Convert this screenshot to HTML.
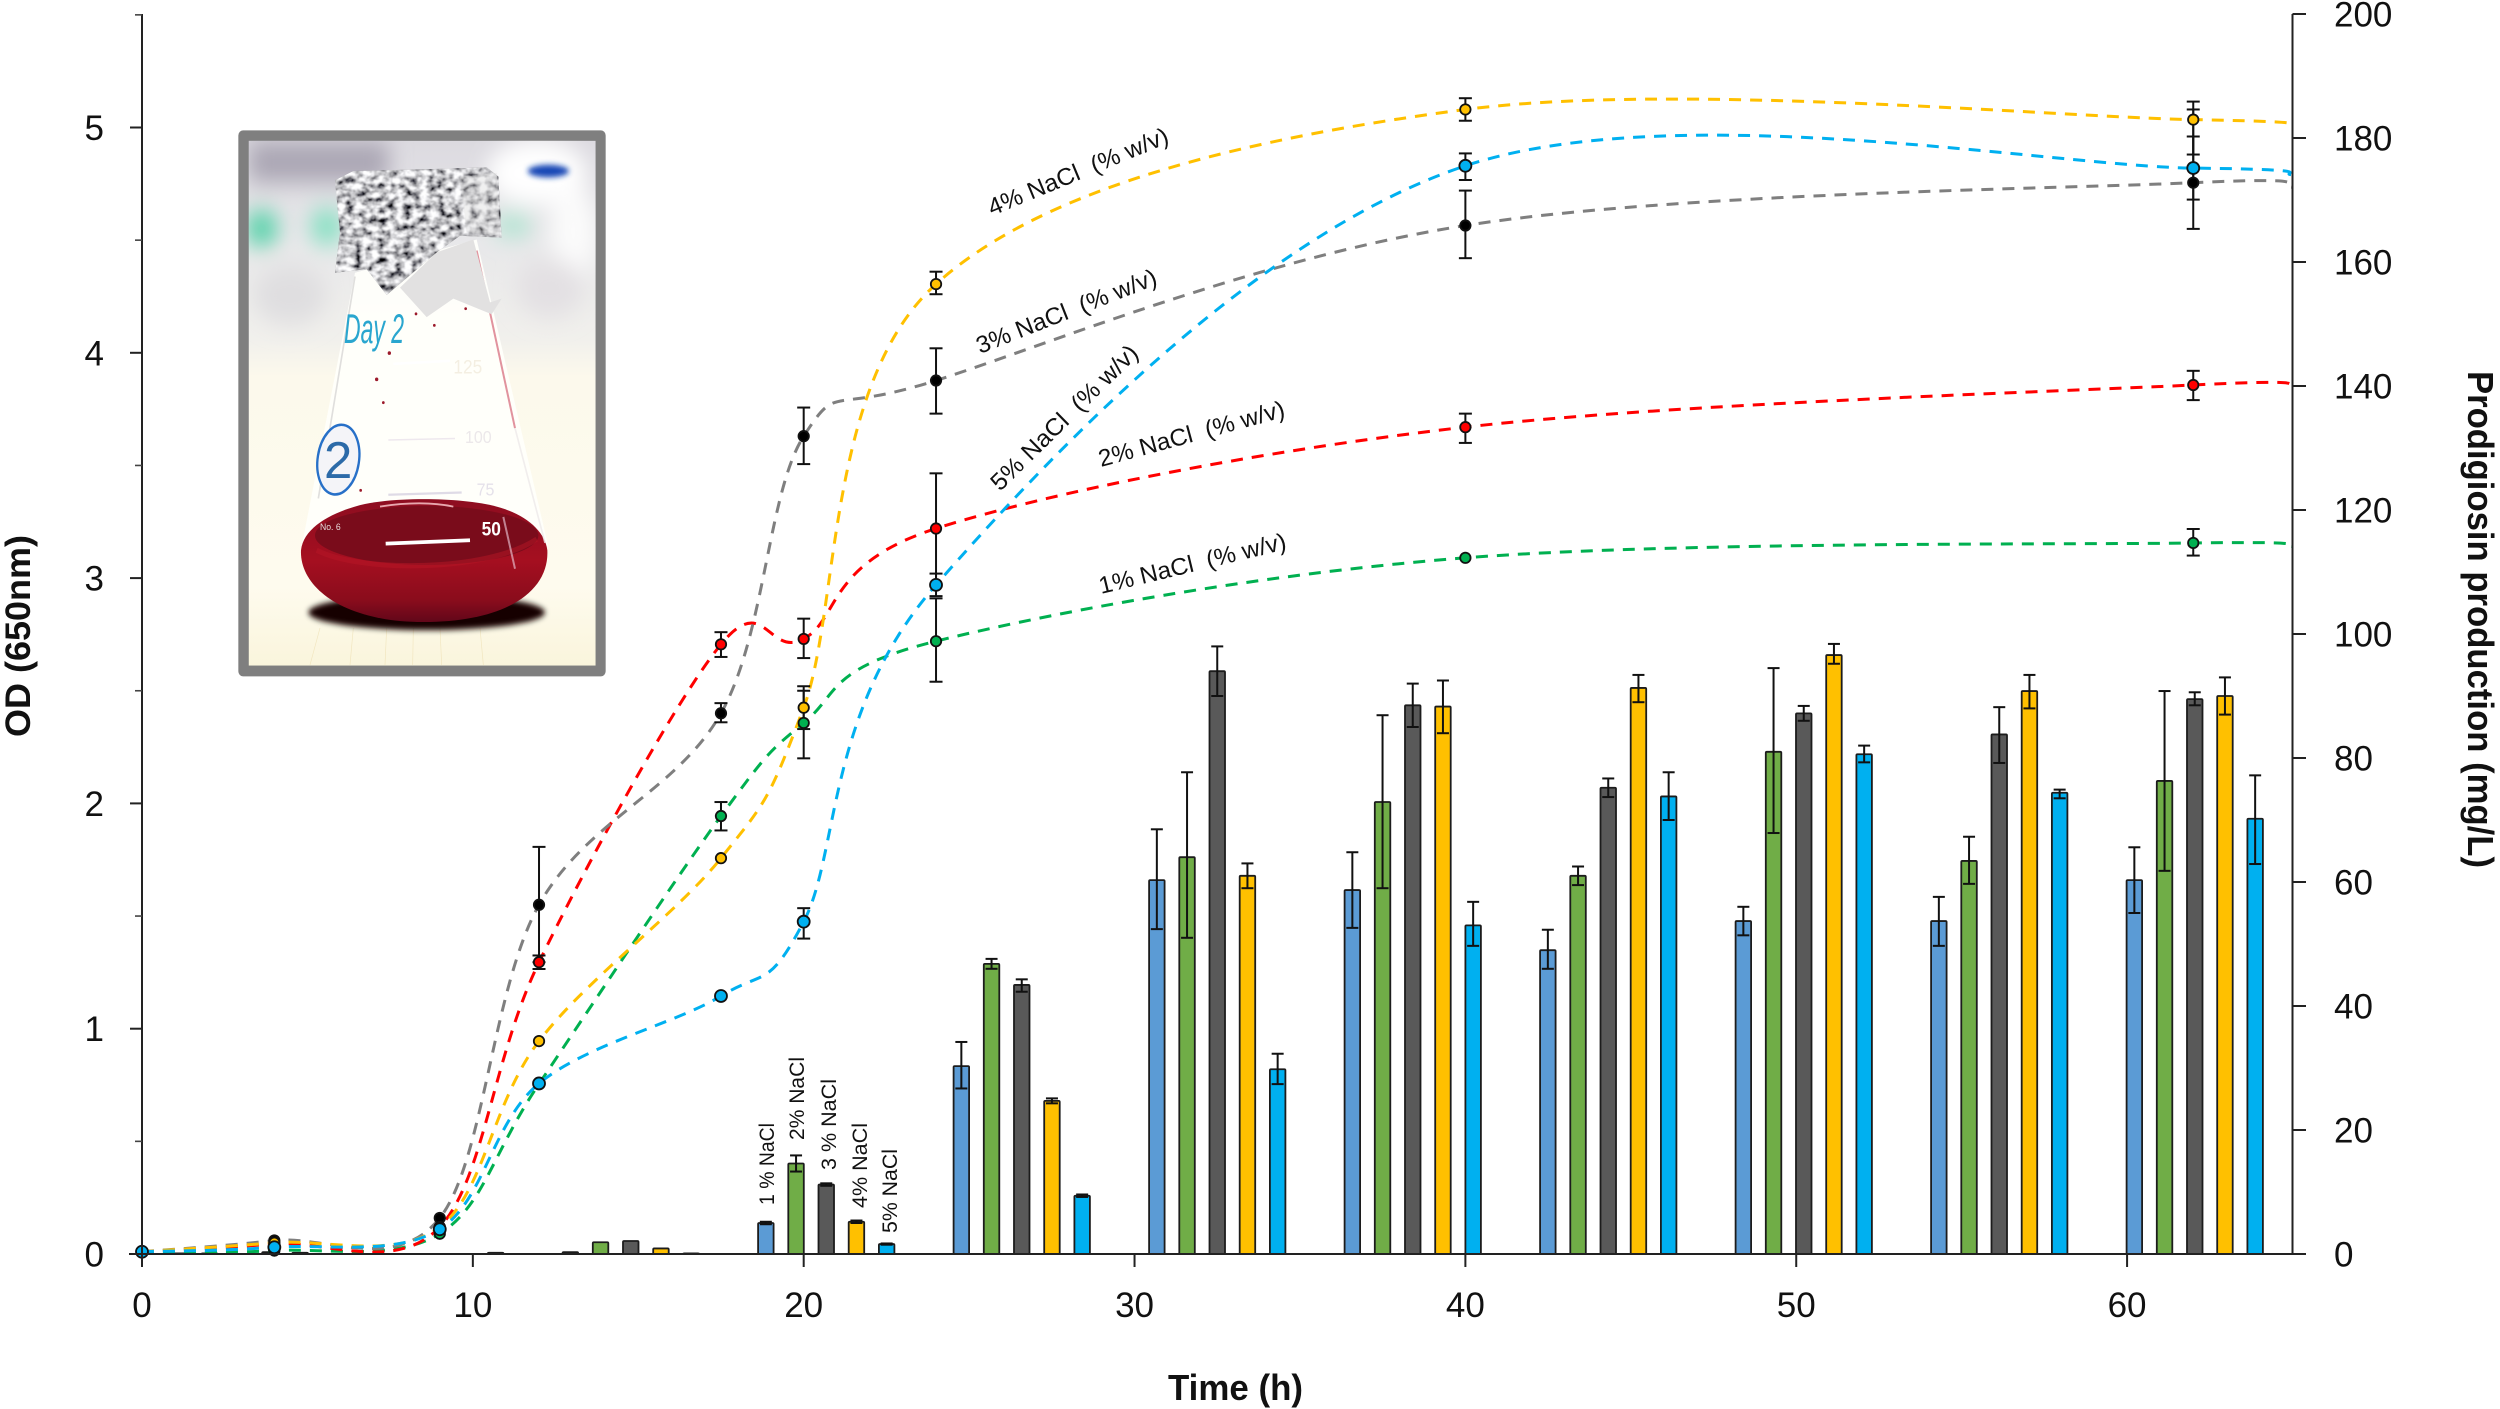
<!DOCTYPE html>
<html lang="en">
<head>
<meta charset="utf-8">
<title>OD and prodigiosin production over time</title>
<style>
html,body{margin:0;padding:0;background:#fff;}
svg{display:block;}
text{font-family:"Liberation Sans",sans-serif;fill:#111;}
</style>
</head>
<body>
<svg id="chart" xmlns="http://www.w3.org/2000/svg" width="2500" height="1409" viewBox="0 0 2500 1409">
  <defs>
    <filter id="blur30" x="-50%" y="-50%" width="200%" height="200%"><feGaussianBlur stdDeviation="32"/></filter>
    <filter id="blur8" x="-20%" y="-80%" width="140%" height="260%"><feGaussianBlur stdDeviation="8"/></filter>
    <filter id="foilTex" x="0" y="0" width="100%" height="100%">
      <feTurbulence type="fractalNoise" baseFrequency="0.04 0.055" numOctaves="3" seed="11" result="n"/>
      <feColorMatrix in="n" type="matrix" values="2.3 0 0 0 -0.58  2.3 0 0 0 -0.58  2.3 0 0 0 -0.56  0 0 0 0 1" result="g"/>
      <feGaussianBlur in="g" stdDeviation="1.5" result="s"/>
      <feComposite in="s" in2="SourceAlpha" operator="in"/>
    </filter>
    <clipPath id="photoClip"><rect x="86" y="83" width="1041" height="1419"/></clipPath>
    <linearGradient id="bgGrad" x1="0" y1="0" x2="0" y2="1">
      <stop offset="0" stop-color="#dcdae0"/><stop offset="0.2" stop-color="#e8e8ea"/>
      <stop offset="0.38" stop-color="#f1f0ec"/><stop offset="0.45" stop-color="#fcf9ec"/>
      <stop offset="0.85" stop-color="#fefbee"/><stop offset="1" stop-color="#faf5dc"/>
    </linearGradient>
    <linearGradient id="liquidGrad" x1="0" y1="0" x2="0" y2="1">
      <stop offset="0" stop-color="#8d0d20"/><stop offset="0.5" stop-color="#a50f20"/>
      <stop offset="0.82" stop-color="#8a0c1c"/><stop offset="1" stop-color="#62071a"/>
    </linearGradient>
  </defs>

  <g id="flask-photo" transform="translate(220,110) scale(0.33333,0.36996)">
    <rect x="55" y="55" width="1102" height="1476" rx="14" fill="#7f7f7f"/>
    <g clip-path="url(#photoClip)">
      <rect x="86" y="83" width="1041" height="1419" fill="url(#bgGrad)"/>
      <g filter="url(#blur30)">
        <rect x="86" y="85" width="420" height="110" fill="#aaa6b4"/>
        <circle cx="125" cy="320" r="48" fill="#4cd0a4"/>
        <circle cx="320" cy="315" r="48" fill="#7fe0c0"/>
        <ellipse cx="950" cy="170" rx="150" ry="90" fill="#ffffff"/>
        <ellipse cx="880" cy="310" rx="55" ry="28" fill="#a4e4cc"/>
        <ellipse cx="1060" cy="330" rx="70" ry="130" fill="#fbfbfb"/>
        <ellipse cx="210" cy="500" rx="110" ry="80" fill="#dfdee0"/>
        <ellipse cx="990" cy="480" rx="100" ry="80" fill="#e3e0e3"/>
      </g>
      <ellipse cx="985" cy="165" rx="62" ry="17" fill="#1747b5" filter="url(#blur8)"/>
      <polygon points="405,440 770,350 985,1180 245,1180" fill="#fffffb" opacity="0.95"/>
      <g stroke="#e8d6a0" stroke-width="2" opacity="0.5">
        <line x1="300" y1="1400" x2="270" y2="1500"/><line x1="400" y1="1400" x2="390" y2="1500"/>
        <line x1="500" y1="1400" x2="495" y2="1500"/><line x1="580" y1="1400" x2="578" y2="1500"/>
        <line x1="660" y1="1400" x2="665" y2="1500"/><line x1="780" y1="1400" x2="790" y2="1500"/>
      </g>
      <ellipse cx="620" cy="1358" rx="355" ry="48" fill="#140505" filter="url(#blur8)"/>
      <path d="M243,1190 C250,1130 330,1090 420,1068 C520,1046 720,1046 830,1072 C920,1094 975,1140 982,1190 C988,1300 860,1384 610,1384 C370,1384 238,1290 243,1190Z" fill="url(#liquidGrad)"/>
      <ellipse cx="620" cy="1150" rx="335" ry="80" fill="#7a0c1b"/>
      <path d="M290,1190 C420,1250 800,1250 950,1160" fill="none" stroke="#b81526" stroke-width="14" opacity="0.5"/>
      <path d="M480,1072 C560,1060 640,1060 700,1072" stroke="#e7a7ae" stroke-width="5" fill="none"/>
      <line x1="497" y1="1172" x2="750" y2="1163" stroke="#ffffff" stroke-width="10"/>
      <text x="785" y="1150" font-size="52" font-weight="bold" style="fill:#ffffff">50</text>
      <text x="700" y="712" font-size="52" style="fill:#f4efe2">125</text>
      <line x1="520" y1="686" x2="690" y2="678" stroke="#ffffff" stroke-width="7"/>
      <line x1="505" y1="892" x2="705" y2="888" stroke="#eee8ee" stroke-width="4"/>
      <line x1="505" y1="1040" x2="725" y2="1034" stroke="#dfdbe6" stroke-width="6"/>
      <text x="770" y="1042" font-size="48" style="fill:#e5e1ea">75</text>
      <text x="735" y="900" font-size="48" style="fill:#ece8ea">100</text>
      <text x="300" y="1135" font-size="26" style="fill:#e8dcdc">No. 6</text>
      <line x1="770" y1="380" x2="885" y2="860" stroke="#d87080" stroke-width="6" opacity="0.75"/>
      <line x1="405" y1="450" x2="295" y2="1050" stroke="#d4d2d2" stroke-width="5" opacity="0.7"/>
      <line x1="885" y1="860" x2="975" y2="1170" stroke="#eeeaea" stroke-width="5" opacity="0.8"/>
      <line x1="850" y1="1100" x2="885" y2="1240" stroke="#f0d0e0" stroke-width="6" opacity="0.6"/>
      <polygon points="540,480 650,385 760,350 810,520 845,510 815,552 700,510 620,560" fill="#e2e1e1"/>
      <polygon points="345,190 400,165 620,160 800,155 835,180 845,345 720,340 650,385 500,500 440,430 345,440 360,330" fill="#8b8b8b"/>
      <polygon points="345,190 400,165 620,160 800,155 835,180 845,345 720,340 650,385 500,500 440,430 345,440 360,330" fill="#fff" filter="url(#foilTex)"/>
      <polygon points="720,180 830,170 840,340 740,330" fill="#d9d9d9" opacity="0.4"/>
      <text x="372" y="630" font-size="112" font-style="italic" textLength="180" lengthAdjust="spacingAndGlyphs" style="fill:#2aa6cf">Day 2</text>
      <ellipse cx="355" cy="945" rx="62" ry="95" fill="#f4f4f8" stroke="#2770c8" stroke-width="7" transform="rotate(10 355 945)"/>
      <text x="312" y="995" font-size="140" textLength="85" lengthAdjust="spacingAndGlyphs" style="fill:#2c6aa8">2</text>
      <g fill="#9c1a2b">
        <circle cx="508" cy="657" r="5"/><circle cx="470" cy="728" r="5"/><circle cx="490" cy="791" r="4"/>
        <circle cx="588" cy="551" r="4"/><circle cx="643" cy="582" r="4"/><circle cx="737" cy="537" r="4"/><circle cx="422" cy="1028" r="4"/>
      </g>
    </g>
  </g>

  <g id="bars"></g>
  <g id="lines"></g>
  <g id="axes"></g>

  <text transform="translate(30,737) rotate(-90)" font-size="35" font-weight="bold" textLength="202" lengthAdjust="spacingAndGlyphs">OD (650nm)</text>
  <text transform="translate(2468,371) rotate(90)" font-size="36" font-weight="bold" textLength="497" lengthAdjust="spacingAndGlyphs">Prodigiosin production (mg/L)</text>
  <text x="1168" y="1400" font-size="36" font-weight="bold" textLength="135" lengthAdjust="spacingAndGlyphs">Time (h)</text>

  <text transform="translate(992,216) rotate(-22.5)" font-size="24" textLength="193" lengthAdjust="spacingAndGlyphs">4% NaCl&#160; (% w/v)</text>
  <text transform="translate(980,354) rotate(-21.5)" font-size="24" textLength="192" lengthAdjust="spacingAndGlyphs">3% NaCl&#160; (% w/v)</text>
  <text transform="translate(1000,492) rotate(-44.5)" font-size="24" textLength="196" lengthAdjust="spacingAndGlyphs">5% NaCl&#160; (% w/v)</text>
  <text transform="translate(1101,467) rotate(-15.3)" font-size="24" textLength="192" lengthAdjust="spacingAndGlyphs">2% NaCl&#160; (% w/v)</text>
  <text transform="translate(1101,594) rotate(-13.6)" font-size="24" textLength="192" lengthAdjust="spacingAndGlyphs">1% NaCl&#160; (% w/v)</text>

  <text transform="translate(774,1205) rotate(-90)" font-size="21" textLength="82" lengthAdjust="spacingAndGlyphs">1 % NaCl</text>
  <text transform="translate(804,1140) rotate(-90)" font-size="21" textLength="83" lengthAdjust="spacingAndGlyphs">2% NaCl</text>
  <text transform="translate(836,1170) rotate(-90)" font-size="21" textLength="91" lengthAdjust="spacingAndGlyphs">3 % NaCl</text>
  <text transform="translate(867,1208) rotate(-90)" font-size="21" textLength="85" lengthAdjust="spacingAndGlyphs">4% NaCl</text>
  <text transform="translate(897,1233) rotate(-90)" font-size="21" textLength="84" lengthAdjust="spacingAndGlyphs">5% NaCl</text>

<script>
// ---- Axis tick labels ----
const timeTicks = [0, 10, 20, 30, 40, 50, 60];
const odTicks = [0, 1, 2, 3, 4, 5];
const odMinorTicks = [0.5, 1.5, 2.5, 3.5, 4.5, 5.5];
const prodTicks = [0, 20, 40, 60, 80, 100, 120, 140, 160, 180, 200];

// ---- OD line series (hours; last hour is where the curve meets the axis) ----
const lineHours = [0, 4, 9, 12, 17.5, 20, 24, 40, 62, 65];
const od1 = [0.01, 0.015, 0.09, 0.755, 1.944, 2.357, 2.72, 3.09, 3.156, 3.14];
const od2 = [0.01, 0.045, 0.12, 1.295, 2.706, 2.73, 3.22, 3.67, 3.857, 3.85];
const od3 = [0.01, 0.06, 0.16, 1.55, 2.40, 3.63, 3.877, 4.565, 4.755, 4.735];
const od4 = [0.01, 0.05, 0.12, 0.945, 1.757, 2.425, 4.305, 5.08, 5.035, 5.01];
const od5 = [0.01, 0.03, 0.11, 0.757, 1.145, 1.475, 2.97, 4.83, 4.82, 4.79];

// Error bar half-lengths (up / down) at each marker
const od1Up = [0, 0, 0, 0, 0.062, 0.143, 0.19, 0, 0.062];
const od1Down = [0, 0, 0, 0, 0.064, 0.157, 0.18, 0, 0.056];
const od2Up = [0, 0, 0, 0.03, 0.054, 0.09, 0.245, 0.06, 0.063];
const od2Down = [0, 0, 0, 0.03, 0.056, 0.085, 0.25, 0.07, 0.067];
const od3Up = [0, 0, 0, 0.257, 0.045, 0.127, 0.143, 0.155, 0.205];
const od3Down = [0, 0, 0, 0.255, 0.04, 0.124, 0.147, 0.145, 0.205];
const od4Up = [0, 0, 0, 0, 0, 0.095, 0.055, 0.05, 0.08];
const od4Down = [0, 0, 0, 0, 0, 0.095, 0.045, 0.05, 0.155];
const od5Up = [0, 0, 0, 0, 0, 0.06, 0.05, 0.055, 0.26];
const od5Down = [0, 0, 0, 0, 0, 0.075, 0.05, 0.063, 0.14];

// ---- Prodigiosin bars (mg/L) ----
const barGroups = ['g1', 'g2', 'g3', 'g4', 'g5', 'g6', 'g7', 'g8', 'g9', 'g10', 'g11'];
const bar1 = [0.1, 0, 0.3, 5.0, 30.3, 60.3, 58.7, 49, 53.7, 53.7, 60.3];
const bar2 = [0.1, 0, 1.9, 14.6, 46.8, 64, 72.9, 61, 81, 63.4, 76.3];
const bar3 = [0, 0, 2.1, 11.2, 43.4, 94, 88.5, 75.2, 87.2, 83.8, 89.5];
const bar4 = [0.3, 0, 0.9, 5.2, 24.7, 61, 88.3, 91.3, 96.6, 90.8, 90];
const bar5 = [0.2, 0.2, 0.1, 1.6, 9.4, 29.8, 53, 73.8, 80.6, 74.4, 70.2];
const bar1Up = [0, 0, 0, 0.2, 3.9, 8.2, 6.1, 3.3, 2.3, 3.9, 5.3];
const bar1Down = [0, 0, 0, 0.2, 3.6, 7.9, 6.1, 3, 2.3, 4, 5.3];
const bar2Up = [0, 0, 0, 1.3, 0.8, 13.7, 14, 1.5, 13.5, 3.9, 14.5];
const bar2Down = [0, 0, 0, 1.3, 0.8, 13, 13.9, 1.5, 13.1, 3.7, 14.5];
const bar3Up = [0, 0, 0, 0.2, 0.9, 4, 3.5, 1.5, 1.2, 4.4, 1.1];
const bar3Down = [0, 0, 0, 0.2, 1.1, 4, 3.5, 1.5, 1.2, 4.6, 1];
const bar4Up = [0, 0, 0, 0.2, 0.4, 2, 4.2, 2.1, 1.8, 2.6, 3];
const bar4Down = [0, 0, 0, 0.2, 0.4, 2, 4.3, 2.3, 1.4, 2.8, 3];
const bar5Up = [0, 0, 0, 0.1, 0.2, 2.5, 3.8, 3.9, 1.4, 0.5, 7];
const bar5Down = [0, 0, 0, 0.1, 0.2, 2.4, 3.3, 3.8, 1.3, 0.9, 7.3];

const lineSeries = [
  {key: '1-percent', values: od1, up: od1Up, down: od1Down, color: '#00B050', marker: '#00B050'},
  {key: '2-percent', values: od2, up: od2Up, down: od2Down, color: '#FF0000', marker: '#FF0000'},
  {key: '3-percent', values: od3, up: od3Up, down: od3Down, color: '#7F7F7F', marker: '#000000'},
  {key: '4-percent', values: od4, up: od4Up, down: od4Down, color: '#FFC000', marker: '#FFC000'},
  {key: '5-percent', values: od5, up: od5Up, down: od5Down, color: '#00B0F0', marker: '#00B0F0'}
];
const barSeries = [
  {key: '1-percent', values: bar1, up: bar1Up, down: bar1Down, color: '#5B9BD5'},
  {key: '2-percent', values: bar2, up: bar2Up, down: bar2Down, color: '#70AD47'},
  {key: '3-percent', values: bar3, up: bar3Up, down: bar3Down, color: '#595959'},
  {key: '4-percent', values: bar4, up: bar4Up, down: bar4Down, color: '#FFC000'},
  {key: '5-percent', values: bar5, up: bar5Up, down: bar5Down, color: '#00B0F0'}
];

// ---- Axis functions ----
const PLOT_LEFT = 142, PLOT_RIGHT = 2292.5, PLOT_BOTTOM = 1254, PLOT_TOP = 14;
const xTime = t => PLOT_LEFT + t * (PLOT_RIGHT - PLOT_LEFT) / 65;
const yOd = v => PLOT_BOTTOM - v * 225.3;
const yProd = v => PLOT_BOTTOM - v * (PLOT_BOTTOM - PLOT_TOP) / 200;
const groupBand = (PLOT_RIGHT - PLOT_LEFT) / barGroups.length;
const xGroup = i => PLOT_LEFT + groupBand * (i + 0.5);
const BAR_STEP = 30.2, BAR_W = 15.5;

const NS = 'http://www.w3.org/2000/svg';
function make(parent, tag, attrs, text) {
  const el = document.createElementNS(NS, tag);
  for (const k in attrs) el.setAttribute(k, attrs[k]);
  if (text !== undefined) el.textContent = text;
  parent.appendChild(el);
  return el;
}

function errorBar(parent, x, yHi, yLo, capW, name) {
  const g = make(parent, 'g', {stroke: '#111', 'stroke-width': 2});
  
  
  make(g, 'line', {x1: x, x2: x, y1: yHi, y2: yLo});
  make(g, 'line', {x1: x - capW / 2, x2: x + capW / 2, y1: yHi, y2: yHi});
  make(g, 'line', {x1: x - capW / 2, x2: x + capW / 2, y1: yLo, y2: yLo});
}

// ---- Bars ----
const barsRoot = document.getElementById('bars');
barSeries.forEach((s, si) => {
  const g = make(barsRoot, 'g', {});
  
  
  s.values.forEach((v, i) => {
    const cx = xGroup(i) + (si - 2) * BAR_STEP;
    const top = yProd(v);
    const r = make(g, 'rect', {x: cx - BAR_W / 2, y: top, width: BAR_W, height: PLOT_BOTTOM - top, rx: 1, fill: s.color, stroke: '#1c1c1c', 'stroke-width': 1.8});
    
    
    if (s.up[i] > 0 || s.down[i] > 0) {
      errorBar(g, cx, yProd(v + s.up[i]), yProd(v - s.down[i]), 12, 'bar-error-' + s.key + '-' + barGroups[i]);
    }
  });
});

// ---- Lines: Catmull-Rom style smoothing like a spreadsheet "smoothed line" ----
function smoothPath(xs, ys) {
  const pts = xs.map((t, i) => [xTime(t), yOd(ys[i])]);
  let d = 'M' + pts[0][0].toFixed(1) + ',' + pts[0][1].toFixed(1);
  for (let i = 0; i < pts.length - 1; i++) {
    const p0 = pts[Math.max(0, i - 1)], p1 = pts[i], p2 = pts[i + 1], p3 = pts[Math.min(pts.length - 1, i + 2)];
    const c1x = p1[0] + (p2[0] - p0[0]) / 6, c1y = p1[1] + (p2[1] - p0[1]) / 6;
    const c2x = p2[0] - (p3[0] - p1[0]) / 6, c2y = p2[1] - (p3[1] - p1[1]) / 6;
    d += 'C' + c1x.toFixed(1) + ',' + c1y.toFixed(1) + ' ' + c2x.toFixed(1) + ',' + c2y.toFixed(1) + ' ' + p2[0].toFixed(1) + ',' + p2[1].toFixed(1);
  }
  return d;
}
const linesRoot = document.getElementById('lines');
lineSeries.forEach(s => {
  const p = make(linesRoot, 'path', {d: smoothPath(lineHours, s.values), fill: 'none', stroke: s.color, 'stroke-width': 3, 'stroke-dasharray': '12 9'});
  
  
});
lineSeries.forEach(s => {
  s.up.forEach((u, i) => {
    if (u > 0 || s.down[i] > 0) {
      const x = xTime(lineHours[i]);
      errorBar(linesRoot, x, yOd(s.values[i] + u), yOd(s.values[i] - s.down[i]), 13, 'od-error-' + s.key + '-' + lineHours[i] + 'h');
    }
  });
});
lineSeries.forEach(s => {
  s.up.forEach((u, i) => {
    const c = make(linesRoot, 'circle', {cx: xTime(lineHours[i]), cy: yOd(s.values[i]), r: s.key === '5-percent' ? 6 : 5.2, fill: s.marker, stroke: '#111', 'stroke-width': 1.8});
    
    
  });
});

// ---- Axes ----
const axesRoot = document.getElementById('axes');
const baseLine = make(axesRoot, 'line', {x1: 129, x2: 2306, y1: PLOT_BOTTOM, y2: PLOT_BOTTOM, stroke: '#222', 'stroke-width': 2});


const leftLine = make(axesRoot, 'line', {x1: PLOT_LEFT, x2: PLOT_LEFT, y1: PLOT_TOP, y2: 1267, stroke: '#222', 'stroke-width': 2});


const rightLine = make(axesRoot, 'line', {x1: PLOT_RIGHT, x2: PLOT_RIGHT, y1: PLOT_TOP, y2: PLOT_BOTTOM, stroke: '#222', 'stroke-width': 2});



timeTicks.forEach(t => {
  const x = xTime(t);
  const tk = make(axesRoot, 'line', {x1: x, x2: x, y1: PLOT_BOTTOM, y2: 1267, stroke: '#222', 'stroke-width': 2});
  
  
  const lb = make(axesRoot, 'text', {x: x, y: 1317, 'font-size': 35, 'text-anchor': 'middle'}, String(t));
  
  
});
odTicks.forEach(v => {
  const y = yOd(v);
  const tk = make(axesRoot, 'line', {x1: 130, x2: PLOT_LEFT, y1: y, y2: y, stroke: '#222', 'stroke-width': 2});
  
  
  const lb = make(axesRoot, 'text', {x: 104, y: y + 12.5, 'font-size': 35, 'text-anchor': 'end'}, String(v));
  
  
});
odMinorTicks.forEach(v => {
  const y = yOd(v);
  const tk = make(axesRoot, 'line', {x1: 135, x2: PLOT_LEFT, y1: y, y2: y, stroke: '#444', 'stroke-width': 1.6});
  
  
});
prodTicks.forEach(v => {
  const y = yProd(v);
  const tk = make(axesRoot, 'line', {x1: PLOT_RIGHT, x2: 2306, y1: y, y2: y, stroke: '#222', 'stroke-width': 2});
  
  
  const lb = make(axesRoot, 'text', {x: 2334, y: y + 12.5, 'font-size': 35}, String(v));
  
  
});
</script>
</svg>
</body>
</html>
